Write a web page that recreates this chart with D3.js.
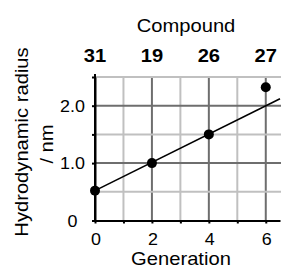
<!DOCTYPE html>
<html>
<head>
<meta charset="utf-8">
<script src="https://cdn.jsdelivr.net/npm/d3@7"></script>
<style>
  body { margin: 0; background: #fff; }
  svg text { font-family: "Liberation Sans", Arial, sans-serif; fill: #000; }
  .grid-major { stroke: #6e6e6e; stroke-width: 2; }
  .grid-minor { stroke: #c0c0c0; stroke-width: 2; }
</style>
</head>
<body>
<svg id="chart" width="281" height="271"></svg>
<script>
// data
const generations = [0, 2, 4, 6];
const compounds = ["31", "19", "26", "27"];
const radius = [0.52, 1.0, 1.5, 2.32];
const fitLine = [[0, 0.52], [6.5, 2.12]];
const xTicks = [0, 2, 4, 6];
const yTicks = [0, 1.0, 2.0];
const yTickLabels = ["0", "1.0", "2.0"];

const svg = d3.select("#chart");
const stretch = 1.12; // glyphs are a bit wider than Arial

const x = d3.scaleLinear().domain([0, 6.5]).range([95, 280]);
const y = d3.scaleLinear().domain([0, 2.5]).range([220.5, 77]);

// grid: minor every 1 (x) / 0.5 (y), major every 2 / 1
const g = svg.append("g");
d3.range(1, 7).forEach(v => {
  g.append("line").attr("class", v % 2 ? "grid-minor" : "grid-major")
    .attr("x1", x(v)).attr("x2", x(v)).attr("y1", y(0)).attr("y2", y(2.5));
});
d3.range(1, 6).forEach(i => {
  const v = i * 0.5;
  g.append("line").attr("class", i % 2 ? "grid-minor" : "grid-major")
    .attr("x1", x(0)).attr("x2", 281).attr("y1", y(v)).attr("y2", y(v));
});

// axes
svg.append("g")
  .attr("transform", `translate(0,${y(0)})`)
  .call(d3.axisBottom(x).tickValues(d3.range(0, 7)).tickSizeInner(3).tickSizeOuter(0).tickFormat(""))
  .call(s => s.selectAll("path,line").attr("stroke", "#000").attr("stroke-width", 2));

svg.append("g")
  .attr("transform", `translate(${x(0)},0)`)
  .call(d3.axisLeft(y).tickValues(d3.range(0, 2.51, 0.5)).tickSizeInner(3).tickSizeOuter(0).tickFormat(""))
  .call(s => s.selectAll("path,line").attr("stroke", "#000").attr("stroke-width", 2));
svg.append("line").attr("x1", x(0)).attr("x2", x(0)).attr("y1", y(2.5) - 3).attr("y2", y(0))
  .attr("stroke", "#000").attr("stroke-width", 2);

function label(txt, tx, ty, size, opts = {}) {
  const t = svg.append("text")
    .attr("transform", `translate(${tx},${ty})` + (opts.rotate ? " rotate(-90)" : "") + ` scale(${stretch},1)`)
    .attr("text-anchor", opts.anchor || "middle")
    .style("font-size", size + "px")
    .text(txt);
  if (opts.bold) t.style("font-weight", "bold");
  return t;
}

// tick labels
xTicks.forEach(v => label(String(v), x(v) + 1, 245, 16));
yTicks.forEach((v, i) => label(yTickLabels[i], 72.5, y(v) + 6, 16));

// top compound labels
generations.forEach((v, i) => label(compounds[i], x(v), 61.5, 18, { bold: true }));
label("Compound", 186, 31.5, 18);

// axis titles
label("Generation", 181, 265, 18);
label("Hydrodynamic radius", 28, 142, 18, { rotate: true });
label("/ nm", 53, 144, 18, { rotate: true });

// fit line
svg.append("path")
  .datum(fitLine)
  .attr("fill", "none")
  .attr("stroke", "#000")
  .attr("stroke-width", 1.6)
  .attr("d", d3.line().x(d => x(d[0])).y(d => y(d[1])));

// points
svg.selectAll("circle.pt")
  .data(generations)
  .enter().append("circle")
  .attr("class", "pt")
  .attr("cx", d => x(d))
  .attr("cy", (d, i) => y(radius[i]))
  .attr("r", 5)
  .attr("fill", "#000");
</script>
</body>
</html>
